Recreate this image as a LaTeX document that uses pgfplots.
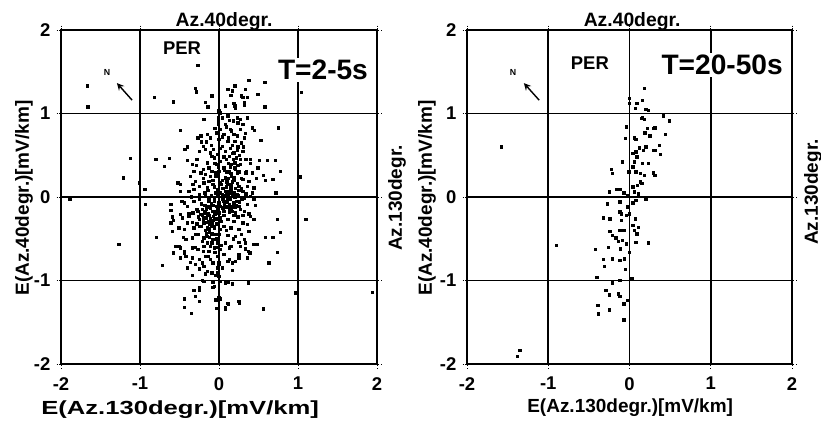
\documentclass[border=0pt]{standalone}
\usepackage{fontspec}
\setmainfont{Liberation Sans}
\usepackage{graphicx}
\usepackage{pgfplots}
\pgfplotsset{compat=1.18}
\newcommand{\fs}[1]{\fontsize{#1}{#1}\selectfont}

\pgfplotstableread{
x y
-0.27 1.58
-1.67 1.33
-1.66 1.08
-0.82 1.19
-0.58 1.14
-0.30 1.30
-0.29 1.26
-0.09 1.21
-0.17 1.13
-0.14 1.08
0.11 1.29
0.20 1.33
0.15 1.22
0.20 1.09
0.08 1.09
0.33 1.29
0.38 1.40
0.28 1.21
0.30 1.19
0.49 1.23
0.58 1.37
0.58 1.08
0.32 1.10
1.04 1.25
0.75 0.83
0.78 0.31
0.61 0.44
0.68 0.21
-0.49 0.80
-0.80 0.45
-0.63 0.46
-0.69 0.37
-1.12 0.46
-1.21 0.23
-1.01 0.17
-0.94 0.09
-0.93 -0.09
-1.89 -0.03
-1.27 -0.57
-0.79 -0.48
-0.72 -0.82
-0.61 -0.09
-0.61 -0.16
-0.58 -0.28
-0.59 -0.41
-0.58 -0.67
-0.51 -0.59
0.74 -0.27
0.78 -0.42
1.10 -0.27
1.03 0.24
0.59 -0.48
0.68 -0.48
0.48 -0.57
0.74 -0.66
0.63 -0.79
0.97 -1.15
1.94 -1.14
0.56 -1.34
-0.44 -1.22
-0.44 -1.32
-0.35 -1.39
-0.25 -1.25
-0.32 -1.12
-0.25 -1.08
-0.04 -1.23
0.00 -1.20
0.08 -1.32
0.11 -1.27
0.25 -1.25
-0.03 -1.33
-0.08 -1.02
0.11 -1.02
0.17 -1.04
-0.21 -1.00
-0.34 -0.94
-0.25 -0.86
-0.30 -0.81
-0.17 -0.92
0.04 -0.85
0.17 -0.88
0.17 -0.79
0.36 -0.73
0.44 -0.57
0.37 -0.65
0.25 -0.69
0.13 -0.75
0.00 -0.79
-0.04 -0.94
-0.08 -1.08
-0.40 -0.85
-0.49 -0.73
-0.44 -0.65
0.00 1.03
-0.19 0.93
-0.01 0.91
-0.27 0.71
-0.23 0.73
-0.15 0.75
-0.11 0.71
-0.22 0.66
-0.20 0.61
-0.17 0.57
-0.11 0.53
-0.09 0.49
-0.06 0.47
-0.43 0.57
-0.40 0.44
-0.34 0.39
-0.29 0.38
-0.15 0.41
-0.13 0.35
-0.03 0.39
-0.32 0.31
-0.23 0.29
-0.17 0.27
-0.11 0.25
-0.04 0.29
-0.52 0.17
-0.49 0.15
-0.30 0.19
-0.25 0.13
-0.19 0.17
-0.15 0.11
-0.08 0.15
-0.02 0.09
-0.49 0.07
-0.38 0.07
-0.32 0.09
0.17 1.27
0.36 1.19
0.32 1.13
0.19 1.12
0.08 1.10
0.21 1.06
0.01 1.01
0.04 0.95
0.11 0.97
0.23 0.95
0.27 0.93
0.36 0.95
0.18 0.91
0.24 0.89
0.30 0.87
-0.01 0.87
0.08 0.87
0.02 0.81
0.14 0.81
0.27 0.81
0.42 0.83
0.45 0.80
-0.03 0.77
0.06 0.75
0.19 0.75
0.23 0.73
0.32 0.71
0.00 0.69
0.11 0.67
0.53 0.68
0.17 0.62
0.24 0.60
0.04 0.61
0.31 0.60
0.08 0.55
0.19 0.53
-0.02 0.51
0.13 0.49
0.22 0.47
0.34 0.45
0.40 0.45
0.51 0.44
0.71 0.44
0.02 0.43
0.15 0.39
0.27 0.39
0.49 0.35
0.06 0.35
0.20 0.35
0.00 0.31
0.13 0.31
0.23 0.29
0.34 0.29
0.42 0.29
0.56 0.26
-0.04 0.25
0.08 0.23
0.19 0.23
0.30 0.21
0.38 0.19
0.59 0.20
0.02 0.17
0.15 0.15
0.25 0.13
0.36 0.13
0.44 0.11
0.08 0.07
0.19 0.05
0.30 0.07
0.72 0.05
-0.44 -0.07
-0.40 -0.11
-0.32 -0.05
-0.25 -0.03
-0.17 0.01
-0.13 -0.05
-0.06 -0.01
-0.59 -0.24
-0.61 -0.31
-0.49 -0.21
-0.46 -0.25
-0.38 -0.23
-0.33 -0.19
-0.27 -0.17
-0.21 -0.15
-0.17 -0.19
-0.11 -0.13
-0.04 -0.17
-0.40 -0.31
-0.34 -0.30
-0.25 -0.27
-0.19 -0.25
-0.13 -0.29
-0.06 -0.27
-0.51 -0.37
-0.44 -0.39
-0.32 -0.37
-0.23 -0.35
-0.15 -0.37
-0.08 -0.35
-0.34 -0.49
-0.27 -0.45
-0.21 -0.53
-0.15 -0.47
-0.08 -0.51
-0.02 -0.45
-0.42 -0.51
-0.55 -0.59
-0.49 -0.61
-0.44 -0.67
-0.34 -0.61
-0.27 -0.63
-0.19 -0.59
-0.13 -0.65
-0.06 -0.61
-0.42 -0.71
-0.34 -0.73
-0.25 -0.75
-0.17 -0.71
-0.11 -0.75
-0.02 -0.71
-0.19 -0.83
-0.15 -0.89
-0.09 -0.91
-0.02 -0.85
-0.19 -1.01
0.00 -0.95
-0.25 -1.11
-0.30 -1.19
-0.06 -1.07
-0.02 0.01
0.04 0.03
0.11 -0.01
0.17 0.01
0.23 0.03
0.32 -0.01
0.40 0.01
0.44 -0.03
0.00 -0.07
0.06 -0.05
0.13 -0.09
0.19 -0.07
0.25 -0.11
0.36 -0.09
-0.02 -0.15
0.06 -0.17
0.15 -0.15
0.21 -0.19
0.32 -0.17
0.40 -0.23
0.44 -0.27
0.02 -0.25
0.11 -0.27
0.19 -0.29
0.30 -0.31
0.36 -0.33
-0.02 -0.33
0.06 -0.35
0.15 -0.37
0.25 -0.39
0.38 -0.41
0.00 -0.45
0.11 -0.46
0.21 -0.47
0.32 -0.51
-0.02 -0.55
0.08 -0.55
0.15 -0.59
0.25 -0.54
0.27 -0.59
0.02 -0.63
0.13 -0.61
0.39 -0.67
0.06 -0.69
0.11 -0.77
0.21 -0.77
0.25 -0.73
0.00 -0.81
-0.02 -0.91
0.02 -1.01
0.08 -1.03
0.37 -1.03
0.02 -1.22
0.12 -1.28
0.08 -1.34
0.26 -1.27
0.08 0.02
0.12 -0.03
0.16 0.05
0.18 -0.08
0.10 -0.12
0.14 0.10
0.20 0.00
0.22 -0.05
0.05 -0.02
0.13 -0.18
0.17 0.18
0.09 0.12
0.25 0.08
0.03 0.15
0.11 0.22
0.19 -0.22
0.06 -0.22
0.27 -0.15
0.15 0.28
0.21 0.33
0.07 0.32
0.12 0.40
0.18 0.45
0.24 0.38
0.28 0.22
0.02 0.05
0.16 -0.12
0.12 0.06
-0.12 -0.22
-0.08 -0.28
-0.15 -0.30
-0.05 -0.20
-0.18 -0.18
-0.10 -0.35
-0.03 -0.32
-0.20 -0.26
-0.14 -0.12
-0.07 -0.10
-0.22 -0.08
-0.12 -0.42
-0.05 -0.45
-0.17 -0.40
-0.25 -0.35
-0.09 -0.55
-0.02 -0.60
-0.15 -0.55
-0.28 -0.15
-0.10 0.02
-0.04 0.05
-0.18 0.05
-0.25 0.03
-0.06 -0.05
-0.13 -0.02
-0.35 0.00
-0.38 -0.20
-0.30 -0.45
-0.33 0.15
-0.36 0.25
-0.28 0.45
-0.25 0.55
-0.40 0.60
-0.30 -0.60
-0.36 -0.78
-0.45 -0.48
-0.47 -0.05
0.35 0.30
0.42 0.05
0.38 -0.20
0.46 -0.10
0.33 -0.55
0.30 0.55
0.28 0.65
0.40 0.40
0.47 0.22
0.33 -0.62
0.05 0.10
-0.08 0.20
0.10 0.18
0.28 0.10
-0.20 0.22
0.24 -0.24
-0.28 -0.32
0.09 -0.40
-0.12 -0.48
0.18 -0.50
0.03 -0.58
-0.20 -0.65
0.14 0.58
-0.10 0.62
0.06 0.48
0.26 0.50
-0.05 0.40
0.12 0.02
0.20 -0.12
0.16 0.08
0.10 -0.06
0.14 -0.02
0.18 0.03
0.22 -0.10
0.07 -0.09
0.15 0.12
0.24 0.02
0.09 0.06
0.13 -0.13
0.21 0.10
0.05 -0.13
0.26 -0.06
0.17 -0.17
0.11 0.15
0.19 0.20
0.04 0.20
0.23 0.16
0.29 -0.03
0.16 0.25
0.10 0.30
0.25 0.30
0.20 0.41
0.14 0.36
0.09 0.45
0.17 0.52
0.23 0.56
0.12 0.71
0.20 0.67
0.16 0.79
0.09 0.84
0.13 0.92
-0.11 -0.26
-0.07 -0.23
-0.14 -0.20
-0.09 -0.31
-0.16 -0.25
-0.04 -0.26
-0.12 -0.32
-0.19 -0.31
-0.06 -0.37
-0.13 -0.38
-0.21 -0.22
-0.08 -0.17
-0.16 -0.14
-0.10 -0.08
-0.18 -0.10
-0.03 -0.11
-0.23 -0.21
-0.26 -0.24
-0.09 -0.44
-0.16 -0.44
-0.03 -0.50
-0.19 -0.49
-0.11 -0.59
-0.05 -0.66
-0.14 -0.71
-0.08 -0.79
-0.21 -0.79
-0.06 0.12
-0.14 0.08
-0.09 0.31
-0.20 0.33
-0.13 0.19
-0.07 0.57
-0.16 0.66
-0.05 0.82
0.01 -0.39
0.03 -0.29
0.00 -0.19
0.02 -0.11
-0.01 0.36
0.01 0.58
0.04 0.72
-0.01 0.95
0.28 -0.45
0.30 -0.22
0.34 0.04
0.27 0.45
0.33 0.76
}\leftdata

\pgfplotstableread{
x y
0.185 1.30
0.156 1.16
0.09 1.12
0.07 1.06
0.20 1.05
0.23 1.04
0.00 1.18
0.00 1.12
0.42 0.97
0.49 0.91
0.16 0.95
0.18 0.93
0.15 0.94
0.29 0.82
0.31 0.83
0.19 0.77
0.25 0.73
0.44 0.75
0.22 0.82
-0.04 0.84
0.06 0.71
0.08 0.69
-0.05 0.70
0.37 0.62
0.29 0.56
0.32 0.56
0.20 0.60
0.17 0.56
0.12 0.59
0.38 0.51
0.04 0.52
0.08 0.54
0.09 0.48
0.23 0.40
0.16 0.40
0.06 0.42
-0.09 0.42
0.04 0.36
0.29 0.29
0.31 0.26
0.18 0.26
0.13 0.28
0.08 0.30
-0.01 0.30
-0.22 0.33
-0.21 0.28
0.13 0.18
0.15 0.16
0.10 0.14
0.04 0.12
-0.16 0.09
-0.12 0.09
-0.25 0.06
-0.07 0.05
-0.03 0.02
0.06 0.06
0.11 0.04
0.20 -0.03
0.08 -0.04
0.04 -0.07
-0.27 -0.08
-0.12 -0.06
-0.03 -0.12
-0.12 -0.18
-0.10 -0.20
0.00 -0.20
-0.32 -0.25
-0.24 -0.26
-0.10 -0.28
-0.04 -0.22
0.07 -0.26
0.04 -0.34
0.11 -0.36
-0.07 -0.40
-0.12 -0.40
0.06 -0.40
0.09 -0.44
-0.24 -0.41
-0.21 -0.46
-0.17 -0.49
-0.14 -0.53
-0.09 -0.52
-0.04 -0.56
0.08 -0.54
0.23 -0.55
-0.26 -0.60
-0.42 -0.63
-0.11 -0.62
0.00 -0.66
-0.21 -0.74
-0.32 -0.75
-0.31 -0.83
-0.12 -0.76
-0.06 -0.74
-0.05 -0.87
-0.40 -0.96
-0.12 -1.00
0.03 -0.98
-0.21 -1.03
-0.29 -1.12
-0.25 -1.17
-0.14 -1.16
-0.12 -1.19
-0.07 -1.28
-0.03 -1.24
-0.39 -1.30
-0.38 -1.40
-0.25 -1.35
-0.07 -1.47
-1.35 -1.84
-1.38 -1.91
-1.58 0.60
-0.90 -0.58
}\rightdata

\pgfplotsset{
  scat/.style={
    scale only axis, height=6.68cm,
    xmin=-2, xmax=2, ymin=-2, ymax=2,
    xtick={-2,-1,0,1,2}, ytick={-2,-1,0,1,2},
    grid=major, major grid style={black, line width=0.9pt},
    axis line style={black, line width=0.9pt},
    tick align=outside, major tick length=2.5pt, tick style={black, thin, densely dotted},
    ticklabel style={font=\bfseries\fs{10.5}},
    xticklabel style={yshift=-1.5pt},
    /pgf/number format/assume math mode=true,
    label style={font=\bfseries\fs{10.8}},
    every axis title shift=0pt,
    title style={font=\bfseries\fs{11}, anchor=center},
    clip mode=individual,
  },
  pts/.style={only marks, mark=square*, mark size=0.68pt, black},
}

\begin{document}
\begin{tikzpicture}
\useasboundingbox (0,0) rectangle (16.42,8.54);
\begin{axis}[scat, at={(1.22cm,1.26cm)}, anchor=south west, width=6.32cm,
  title={Az.40degr.},
  title style={at={(axis description cs:0.516,1.026)}},
  xlabel={\scalebox{1.35}[1]{E(Az.130degr.)[mV/km]}},
  xlabel style={at={(axis description cs:0.377,-0.138)}, anchor=center},
  ylabel={E(Az.40degr.)[mV/km]},
  ylabel style={at={(axis description cs:-0.117,0.497)}, anchor=center},
]
\addplot[pts] table[x=x,y=y] {\leftdata};
\node[font=\bfseries\fs{10.5}] at (axis description cs:0.383,0.946) {PER};
\node[font=\bfseries\fs{16}, fill=white, inner sep=1pt] at (axis description cs:0.829,0.880) {T=2-5s};
\node[font=\bfseries\fs{5}] at (axis description cs:0.146,0.874) {N};
\draw[->, line width=0.8pt, >=stealth] (axis description cs:0.225,0.790) -- (axis description cs:0.177,0.841);
\node[rotate=90, font=\bfseries\fs{10.8}] at (axis description cs:1.063,0.497) {Az.130degr.};
\end{axis}
\begin{axis}[scat, at={(9.34cm,1.26cm)}, anchor=south west, width=6.5cm,
  title={Az.40degr.},
  title style={at={(axis description cs:0.508,1.026)}},
  xlabel={E(Az.130degr.)[mV/km]},
  xlabel style={at={(axis description cs:0.502,-0.132)}, anchor=center},
  ylabel={E(Az.40degr.)[mV/km]},
  ylabel style={at={(axis description cs:-0.123,0.497)}, anchor=center},
]
\addplot[pts] table[x=x,y=y] {\rightdata};
\node[font=\bfseries\fs{10.5}] at (axis description cs:0.378,0.901) {PER};
\node[font=\bfseries\fs{16}, fill=white, inner sep=1pt] at (axis description cs:0.785,0.895) {T=20-50s};
\node[font=\bfseries\fs{5}] at (axis description cs:0.142,0.874) {N};
\draw[->, line width=0.8pt, >=stealth] (axis description cs:0.222,0.790) -- (axis description cs:0.175,0.841);
\node[rotate=90, font=\bfseries\fs{10.8}] at (axis description cs:1.065,0.515) {Az.130degr.};
\end{axis}
\end{tikzpicture}
\end{document}
